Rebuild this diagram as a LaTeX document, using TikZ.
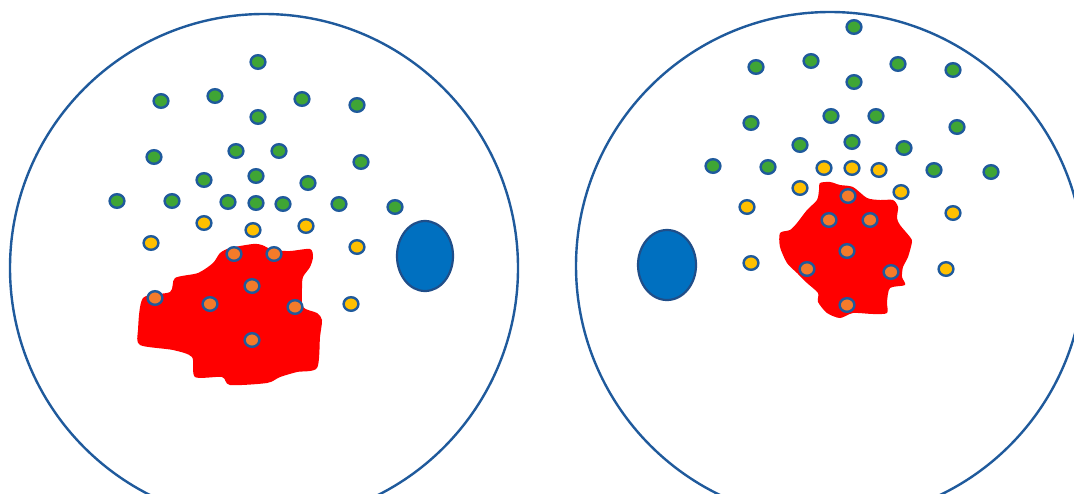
\documentclass[tikz,border=0pt]{standalone}
\usetikzlibrary{shapes.geometric}
\definecolor{ringblue}{HTML}{1F5A9C}
\definecolor{edgeblue}{HTML}{1F4E89}
\definecolor{dotgreen}{HTML}{3FA535}
\definecolor{dotyellow}{HTML}{FFC000}
\definecolor{dotorange}{HTML}{F47B2A}
\definecolor{blobred}{HTML}{FF0000}
\definecolor{coreblue}{HTML}{0070C0}
\begin{document}
\begin{tikzpicture}
         [x=0.5pt, y=-0.5pt,
          dot/.style={ellipse,draw=ringblue,line width=1.2pt,inner sep=0pt,
                      minimum width=7.4pt,minimum height=6.8pt},
          green dot/.style={dot,fill=dotgreen},
          yellow dot/.style={dot,fill=dotyellow},
          orange dot/.style={dot,fill=dotorange},
          ring/.style={draw=ringblue,line width=1.2pt},
          core/.style={draw=edgeblue,fill=coreblue,line width=1.1pt}]
         \clip (0,0) rectangle (1074,493);
         \fill[white] (0,0) rectangle (1074,493);

         % left cell
         \draw[ring] (264,268) circle [x radius=254, y radius=254];
         \fill[blobred] plot[smooth cycle, tension=0.45] coordinates {
            (230,248) (253,244) (262,245) (273,250) (290,251) (310,249) (313,257)
            (310,267) (303,277) (302,288) (303,307) (317,313) (322,320) (320,337)
            (317,368) (297,372) (280,377) (267,383) (230,385) (222,377) (195,377)
            (192,357) (173,350) (140,345) (138,330) (143,298) (170,292) (175,278)
            (198,273) (213,263) (220,253)};
         \draw[core] (425,256) ellipse [x radius=28, y radius=35];
         \foreach \x/\y [count=\i] in {258/62, 161/101, 215/96, 302/99, 357/105,
            258/117, 154/157, 236/151, 279/151, 361/162, 204/180, 256/176, 308/183,
            117/201, 172/201, 228/202, 256/203, 283/204, 339/204, 395/207}
            \node[green dot] (lg\i) at (\x,\y) {};
         \foreach \x/\y [count=\i] in {204/223, 253/230, 306/226, 151/243, 357/247, 351/304}
            \node[yellow dot] (ly\i) at (\x,\y) {};
         \foreach \x/\y [count=\i] in {234/254, 274/254, 252/286, 155/298, 210/304,
            295/307, 252/340}
            \node[orange dot] (lo\i) at (\x,\y) {};

         % right cell
         \draw[ring] (830,266) circle [x radius=254, y radius=254];
         \fill[blobred] plot[smooth cycle, tension=0.45] coordinates {
            (820,183) (830,182) (840,185) (853,187) (867,198) (880,200) (893,200)
            (898,207) (897,218) (900,225) (910,237) (912,242) (908,257) (903,267)
            (902,277) (905,285) (890,288) (887,302) (887,313) (873,314) (853,313)
            (840,318) (827,313) (818,302) (818,293) (807,283) (797,273) (787,263)
            (780,247) (780,233) (790,230) (797,223) (807,210) (817,200) (819,190)};
         \draw[core] (667,265) ellipse [x radius=29, y radius=35];
         \foreach \x/\y [count=\i] in {854/27, 756/67, 811/61, 898/64, 953/70,
            854/82, 751/123, 831/116, 876/116, 957/127, 800/145, 852/142, 904/148,
            713/166, 768/167, 934/170, 991/172}
            \node[green dot] (rg\i) at (\x,\y) {};
         \foreach \x/\y [count=\i] in {824/168, 852/168, 879/170, 800/188, 901/192,
            747/207, 953/213, 751/263, 946/269}
            \node[yellow dot] (ry\i) at (\x,\y) {};
         \foreach \x/\y [count=\i] in {848/196, 829/220, 870/220, 847/251, 807/269,
            891/272, 847/305}
            \node[orange dot] (ro\i) at (\x,\y) {};
      \end{tikzpicture}
\end{document}
